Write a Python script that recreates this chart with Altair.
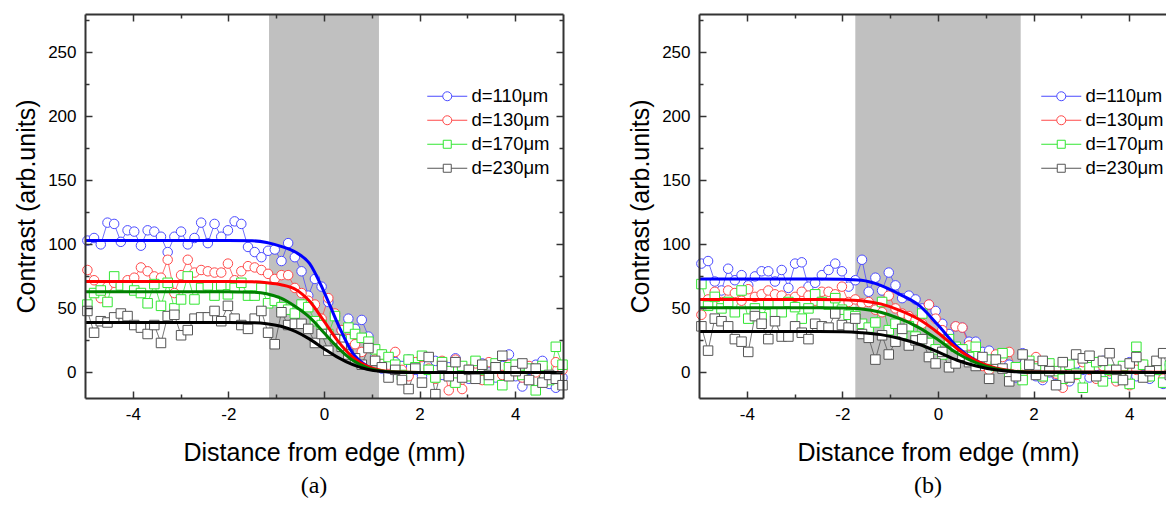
import altair as alt
import pandas as pd

# ---------------- data ----------------
SERIES = ["d=110μm", "d=130μm", "d=170μm", "d=230μm"]

X = [-4.95, -4.81, -4.67, -4.53, -4.39, -4.25, -4.11, -3.97, -3.83, -3.69,
     -3.55, -3.41, -3.27, -3.13, -2.99, -2.85, -2.71, -2.57, -2.43, -2.29,
     -2.15, -2.01, -1.87, -1.73, -1.59, -1.45, -1.31, -1.17, -1.03, -0.89,
     -0.75, -0.61, -0.47, -0.33, -0.19, -0.05, 0.09, 0.23, 0.37, 0.51,
     0.65, 0.79, 0.93, 1.07, 1.21, 1.35, 1.49, 1.63, 1.77, 1.91,
     2.05, 2.19, 2.33, 2.47, 2.61, 2.75, 2.89, 3.03, 3.17, 3.31,
     3.45, 3.59, 3.73, 3.87, 4.01, 4.15, 4.29, 4.43, 4.57, 4.71,
     4.85, 4.99]

# panel (a)
A_110 = [103, 105, 100, 117, 116, 102, 111, 110, 99, 111,
         110, 106, 94, 106, 110, 100, 105, 117, 101, 116,
         106, 111, 118, 116, 98, 94, 90, 95, 96, 87,
         101, 90, 79, 60, 73, 67, 55, 44, 33, 42,
         34, 41, 28, 12, 3, -2, 8, 5, 10, 2,
         -3, 6, 9, -2, 4, 11, 1, -5, 3, 7,
         0, -4, 5, 14, -3, -11, 2, 6, 9, -9,
         -12, -4]
A_130 = [80, 72, 58, 67, 70, 68, 72, 74, 82, 79,
         75, 74, 88, 62, 76, 88, 78, 80, 79, 78,
         78, 85, 72, 79, 83, 82, 80, 77, 73, 76,
         76, 66, 62, 56, 53, 42, 58, 46, 33, 26,
         22, 16, 20, 10, 14, 6, 16, 2, -3, 8,
         12, 3, -5, 9, -14, 10, -13, 2, 7, -6,
         8, 3, -2, 6, 1, -4, 5, 0, 4, -3,
         8, 2]
A_170 = [53, 62, 64, 55, 75, 68, 67, 64, 62, 54,
         69, 52, 70, 50, 57, 75, 57, 66, 68, 60,
         68, 61, 66, 70, 60, 60, 66, 54, 56, 51,
         49, 46, 53, 51, 40, 37, 30, 44, 25, 35,
         30, 27, 24, 18, 14, 12, 6, -2, 10, 4,
         13, 2, -4, 8, 1, -8, 5, -3, 9, 2,
         -6, 7, -10, 4, 6, -2, 3, -14, 5, -6,
         20, 6]
A_230 = [48, 31, 40, 39, 43, 46, 44, 37, 35, 30,
         37, 23, 44, 45, 29, 33, 42, 43, 43, 48,
         40, 52, 42, 37, 34, 42, 48, 31, 22, 47,
         37, 38, 38, 34, 23, 30, 17, 26, 20, 14,
         11, 6, 19, 9, 4, -4, 2, -6, -13, 3,
         -8, 12, -17, 5, -3, 8, -4, 2, -5, 6,
         -2, 4, 13, -3, 1, 7, -6, 3, -8, -2,
         -5, -10]

# panel (b)
B_110 = [85, 87, 71, 64, 81, 72, 76, 68, 75, 79,
         79, 71, 80, 66, 85, 86, 67, 70, 76, 80,
         85, 79, 67, 72, 88, 63, 74, 64, 78, 68,
         58, 60, 57, 50, 53, 48, 38, 30, 36, 35,
         24, 24, 16, 17, 13, 9, 6, -4, 15, 3,
         -3, -6, 0, -2, 4, -7, 7, 2, -4, 5,
         9, -1, -6, 3, 8, -3, 5, -5, 2, -9,
         6, 3]
B_130 = [45, 57, 63, 55, 64, 62, 56, 65, 59, 61,
         64, 61, 60, 57, 59, 63, 60, 56, 63, 63,
         61, 67, 55, 57, 54, 55, 49, 47, 60, 50,
         46, 44, 41, 38, 53, 42, 33, 25, 36, 35,
         21, 14, 5, 2, 14, 12, 16, 3, -2, 7,
         12, -4, 6, -1, -12, 4, -2, 8, 2, -5,
         5, 1, -7, 3, -10, 2, 6, -3, 4, -5,
         1, -12]
B_170 = [69, 52, 59, 50, 55, 47, 64, 42, 50, 43,
         53, 47, 47, 55, 51, 42, 50, 61, 55, 53,
         58, 49, 45, 44, 38, 35, 39, 55, 33, 38,
         30, 36, 28, 46, 23, 18, 14, 26, 20, 18,
         12, 20, 9, 10, 5, 15, -2, 4, -6, 9,
         3, -3, 7, 1, -5, 6, -1, -12, 4, 8,
         -7, 2, -4, 5, -9, 20, 6, -3, 2, -8,
         5, 19]
B_230 = [36, 17, 42, 40, 36, 26, 24, 16, 44, 38,
         26, 40, 28, 28, 36, 31, 26, 38, 36, 35,
         46, 37, 35, 42, 30, 27, 10, 29, 14, 24,
         34, 21, 25, 26, 12, 7, 16, 4, 7, 13,
         8, 5, 12, -5, 10, 3, -7, -3, 14, 6,
         -2, 9, 1, -10, 8, -4, 14, 11, 13, -3,
         9, 15, 2, -6, 7, 12, -4, 1, 9, 15,
         -2, 6]

# fitted curves
FIT_X_A = [-5.0, -2.0, -1.5, -1.2, -0.9, -0.6, -0.3, 0.0, 0.3, 0.6, 0.9, 1.2, 1.5, 2.0, 5.0]
FIT_A_110 = [103, 103, 102.8, 101.5, 98.5, 94, 85, 63, 37, 15, 5, 1, 0.2, 0, 0]
FIT_A_130 = [71, 71, 70.8, 70, 68.5, 65, 55.5, 40, 24, 12, 5, 1.5, 0.3, 0, 0]
FIT_A_170 = [63, 63, 62.7, 61.5, 58, 51.5, 43, 31, 19, 9.5, 3.8, 1.2, 0.3, 0, 0]
FIT_A_230 = [39, 39, 38.8, 38, 36, 32, 26, 18.5, 11.5, 6, 2.5, 0.8, 0.2, 0, 0]

FIT_X_B = [-5.0, -2.5, -2.0, -1.6, -1.2, -0.8, -0.4, 0.0, 0.4, 0.8, 1.2, 1.6, 2.0, 5.0]
FIT_B_110 = [73, 73, 72.8, 72, 68, 61, 52.5, 37, 20, 9, 3, 0.8, 0.2, 0]
FIT_B_130 = [57, 57, 56.8, 56, 53.5, 48.5, 41.5, 31, 18.5, 9, 3.5, 1, 0.3, 0]
FIT_B_170 = [50.5, 50.5, 50.3, 49.6, 47, 42, 35, 25.5, 15, 7.5, 2.8, 0.8, 0.2, 0]
FIT_B_230 = [32, 32, 31.8, 31, 29.5, 26.5, 22, 16, 9.5, 5, 2, 0.6, 0.1, 0]

# shaded bands (mm)
SHADE_A = [-1.15, 1.15]
SHADE_B = [-1.73, 1.73]

X_DOMAIN = [-5, 5]
Y_DOMAIN = [-20, 280]
X_MAJOR = [-4, -2, 0, 2, 4]
X_MINOR = [-3, -1, 1, 3]
Y_MAJOR = [0, 50, 100, 150, 200, 250]
Y_MINOR = [25, 75, 125, 175, 225, 275]

# ---------------- styles ----------------
POINT_COLORS = ["#4b4bff", "#ff4a4a", "#33e633", "#555555"]
FIT_COLORS = ["#0000ff", "#ff0000", "#008000", "#000000"]
POINT_SHAPES = ["circle", "circle", "square", "square"]
CIRCLE_SYM = "M-4,0L-0.9,0M0.9,0L4,0M0.9,0A0.9,0.9,0,1,1,-0.9,0A0.9,0.9,0,1,1,0.9,0"
SQUARE_SYM = "M-4,0L-0.8,0M0.8,0L4,0M-0.8,-0.8L0.8,-0.8L0.8,0.8L-0.8,0.8Z"
LEGEND_SHAPES = [CIRCLE_SYM, CIRCLE_SYM, SQUARE_SYM, SQUARE_SYM]
SHADE_COLOR = "#c0c0c0"
AX_COLOR = "#333333"
FONT = "Liberation Sans"
W, H = 478, 384


def points_frame(lists):
    rows = []
    for name, ys in zip(SERIES, lists):
        for xv, yv in zip(X, ys):
            rows.append({"x": xv, "y": yv, "series": name})
    return pd.DataFrame(rows)


def fit_frame(xs, lists):
    rows = []
    for name, ys in zip(SERIES, lists):
        for xv, yv in zip(xs, ys):
            rows.append({"x": xv, "y": yv, "series": name})
    return pd.DataFrame(rows)


def axis(**kw):
    base = dict(grid=False, zindex=1, title=None, labels=False, ticks=False, domain=False)
    base.update(kw)
    return alt.Axis(**base)


def tick_axis(orient, values, size):
    return axis(orient=orient, values=values, ticks=True, tickSize=size,
                tickColor=AX_COLOR, tickWidth=1.5, offset=-size)


def domain_axis(orient):
    return axis(orient=orient, domain=True, domainColor=AX_COLOR, domainWidth=2)


MAIN_X = axis(orient="bottom", title="Distance from edge (mm)", labels=True, values=X_MAJOR,
              labelExpr="'' + datum.value", labelFont=FONT, labelFontSize=17,
              labelColor="black", labelPadding=8, titleFont=FONT, titleFontSize=25,
              titleFontWeight="normal", titleColor="black", titlePadding=18,
              domain=True, domainColor=AX_COLOR, domainWidth=2)
MAIN_Y = axis(orient="left", title="Contrast (arb.units)", labels=True, values=Y_MAJOR,
              labelFont=FONT, labelFontSize=17, labelColor="black", labelPadding=9,
              titleFont=FONT, titleFontSize=25, titleFontWeight="normal",
              titleColor="black", titlePadding=8,
              domain=True, domainColor=AX_COLOR, domainWidth=2)


def panel(pts, fit, shade, caption):
    xs = alt.Scale(domain=X_DOMAIN, nice=False, zero=False)
    ys = alt.Scale(domain=Y_DOMAIN, nice=False, zero=False)
    light = alt.Scale(domain=SERIES, range=POINT_COLORS)
    shade_df = pd.DataFrame({"x1": [shade[0]], "x2": [shade[1]],
                             "y1": [Y_DOMAIN[0]], "y2": [Y_DOMAIN[1]]})

    shade_layer = alt.Chart(shade_df).mark_rect(color=SHADE_COLOR).encode(
        x=alt.X("x1:Q", scale=xs, axis=MAIN_X), x2="x2:Q",
        y=alt.Y("y1:Q", scale=ys, axis=MAIN_Y), y2="y2:Q")

    thin = alt.Chart(pts).mark_line(strokeWidth=0.8).encode(
        x=alt.X("x:Q", scale=xs, axis=tick_axis("bottom", X_MAJOR, 7)),
        y=alt.Y("y:Q", scale=ys, axis=tick_axis("left", Y_MAJOR, 7)),
        stroke=alt.Stroke("series:N", scale=light, legend=None))

    marks = alt.Chart(pts).mark_point(filled=True, fill="white", fillOpacity=1, opacity=1,
                                      size=90, strokeWidth=1).encode(
        x=alt.X("x:Q", scale=xs, axis=tick_axis("bottom", X_MINOR, 4)),
        y=alt.Y("y:Q", scale=ys, axis=tick_axis("left", Y_MINOR, 4)),
        stroke=alt.Stroke("series:N", scale=light, legend=None),
        shape=alt.Shape("series:N", scale=alt.Scale(domain=SERIES, range=POINT_SHAPES),
                        legend=None))

    fits = alt.Chart(fit).mark_line(strokeWidth=3, interpolate="monotone").encode(
        x=alt.X("x:Q", scale=xs, axis=domain_axis("top")),
        y=alt.Y("y:Q", scale=ys, axis=domain_axis("right")),
        color=alt.Color("series:N", scale=alt.Scale(domain=SERIES, range=FIT_COLORS),
                        legend=None))

    leg = alt.Legend(orient="none", legendX=353, legendY=73, title=None,
                     labelFont=FONT, labelFontSize=18.5, labelColor="black",
                     symbolSize=100, symbolStrokeWidth=1, symbolOpacity=1,
                     labelOffset=15, rowPadding=5, padding=0)
    legend_layer = alt.Chart(pts).mark_point(filled=False, opacity=0, size=100).encode(
        x=alt.X("x:Q", scale=xs, axis=tick_axis("top", X_MAJOR, 7)),
        y=alt.Y("y:Q", scale=ys, axis=tick_axis("right", Y_MAJOR, 7)),
        stroke=alt.Stroke("series:N", scale=light, legend=leg),
        shape=alt.Shape("series:N", scale=alt.Scale(domain=SERIES, range=LEGEND_SHAPES),
                        legend=leg))

    extra = alt.Chart(fit).mark_line(opacity=0).encode(
        x=alt.X("x:Q", scale=xs, axis=tick_axis("top", X_MINOR, 4)),
        y=alt.Y("y:Q", scale=ys, axis=tick_axis("right", Y_MINOR, 4)),
        detail="series:N")

    return alt.layer(shade_layer, thin, marks, fits, legend_layer, extra).resolve_scale(
        stroke="independent", shape="independent"
    ).resolve_axis(x="independent", y="independent").properties(
        width=W, height=H,
        title=alt.TitleParams(caption, orient="bottom", anchor="middle", frame="group",
                              font="Liberation Serif", fontSize=24, fontWeight="normal",
                              color="black", offset=9, dx=-10))


pa = panel(points_frame([A_110, A_130, A_170, A_230]),
           fit_frame(FIT_X_A, [FIT_A_110, FIT_A_130, FIT_A_170, FIT_A_230]), SHADE_A, "(a)")
pb = panel(points_frame([B_110, B_130, B_170, B_230]),
           fit_frame(FIT_X_B, [FIT_B_110, FIT_B_130, FIT_B_170, FIT_B_230]), SHADE_B, "(b)")

chart = alt.hconcat(pa, pb, spacing=44).resolve_scale(
    stroke="independent", shape="independent", color="independent"
).properties(
    padding={"left": 6, "top": 4, "right": -32, "bottom": -1}
).configure_view(stroke="transparent")

chart.save("out.html", embed_options={"renderer": "svg", "actions": False})
